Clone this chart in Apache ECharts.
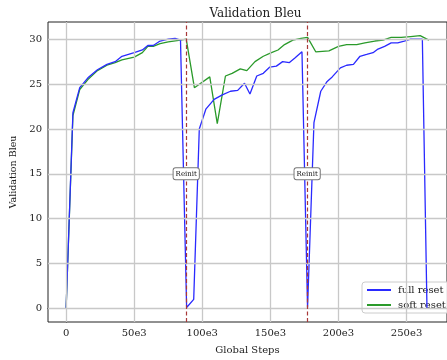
<!DOCTYPE html>
<html><head><meta charset="utf-8">
<script src="https://cdn.jsdelivr.net/npm/echarts@6/dist/echarts.min.js"></script>
<style>html,body{margin:0;padding:0;background:#fff}#c{width:447px;height:360px}</style>
</head><body><div id="c"></div>
<script>
const fullSteps = [0,5000,10000,16000,23000,30000,36000,41000,50000,56000,60000,64000,69000,75000,80000,84000,88500,93700,97800,102600,108700,114700,120700,126000,131000,135000,140000,144800,149600,154400,159000,164000,168000,173200,177300,182000,187000,191700,195400,201400,206000,211000,215800,220700,225400,229000,233900,238700,243500,248300,253000,257000,261600,265000];
const fullVals  = [0,21.8,24.6,25.7,26.6,27.2,27.5,28.1,28.5,28.8,29.3,29.3,29.8,30.0,30.1,29.9,0.1,1.0,20.0,22.2,23.3,23.8,24.2,24.3,25.1,23.9,25.9,26.2,26.9,27.0,27.5,27.4,27.9,28.6,0.1,20.7,24.2,25.3,25.8,26.8,27.1,27.2,28.1,28.3,28.5,28.9,29.2,29.6,29.6,29.8,30.0,30.0,30.0,0];
const softSteps = [0,5000,10000,16000,23000,30000,36000,41000,50000,56000,60000,64000,69000,75000,84000,88200,94200,105500,111000,117000,121900,127900,132700,138700,144800,150800,155600,160400,166500,172500,177300,183300,193000,200000,206000,213400,219400,226700,232700,238700,246000,253000,260000,266400];
const softVals  = [0,21.5,24.4,25.5,26.5,27.1,27.4,27.7,28.0,28.5,29.2,29.2,29.5,29.7,29.9,30.0,24.6,25.8,20.6,25.9,26.2,26.7,26.5,27.5,28.1,28.5,28.8,29.4,29.9,30.1,30.2,28.6,28.7,29.2,29.4,29.4,29.6,29.8,29.9,30.2,30.2,30.3,30.4,29.9];
const reinitSteps = [88200, 177000];
const reinitLabelY = 15;
const xTickVals = [0,50000,100000,150000,200000,250000];
const xTickLabels = ['0','50e3','100e3','150e3','200e3','250e3'];
const yTickVals = [0,5,10,15,20,25,30];

const FONT = 'DejaVu Serif';
const chart = echarts.init(document.getElementById('c'), null, {renderer:'canvas'});
const pair = (xs, ys) => xs.map((x,i)=>[x, ys[i]]);
chart.setOption({
  animation:false,
  backgroundColor:'#fff',
  title:{text:'Validation Bleu', left:250.5, top:3, textAlign:'center',
    textStyle:{fontFamily:FONT, fontSize:12, fontWeight:'normal', color:'#222'}},
  grid:{left:48, top:22, right:-6.5, bottom:36.3, show:true, borderColor:'#222', borderWidth:1, backgroundColor:'transparent'},
  legend:{orient:'vertical', left:362, top:282, itemWidth:24, itemHeight:2, itemGap:5,
    icon:'rect',
    backgroundColor:'rgba(255,255,255,0.85)', borderColor:'#ccc', borderWidth:1, borderRadius:3,
    padding:[3,6,3,5],
    textStyle:{fontFamily:FONT, fontSize:10, color:'#222', padding:[0,0,0,2]},
    data:['full reset','soft reset']},
  xAxis:{type:'value', min:-13300, max:279700,
    name:'Global Steps', nameLocation:'middle', nameGap:23,
    nameTextStyle:{fontFamily:FONT, fontSize:10, color:'#222'},
    axisLine:{show:true, lineStyle:{color:'#222'}},
    axisTick:{show:true, customValues:xTickVals, length:3.5, lineStyle:{color:'#222'}},
    axisLabel:{customValues:xTickVals, formatter:(v)=>xTickLabels[xTickVals.indexOf(v)], fontFamily:FONT, fontSize:10, color:'#222', margin:6},
    splitLine:{show:false}},
  yAxis:{type:'value', min:-1.52, max:31.92,
    name:'Validation Bleu', nameLocation:'middle', nameGap:25,
    nameTextStyle:{fontFamily:FONT, fontSize:9.5, color:'#222'},
    axisLine:{show:true, lineStyle:{color:'#222'}},
    axisTick:{show:true, customValues:yTickVals, length:3.5, lineStyle:{color:'#222'}},
    axisLabel:{customValues:yTickVals, fontFamily:FONT, fontSize:10, color:'#222', margin:6},
    splitLine:{show:false}},
  series:[
    {name:'grid', type:'line', data:[], silent:true,
      markLine:{silent:true, symbol:'none', label:{show:false},
        lineStyle:{color:'#c8c8c8', width:1.3, type:'solid'},
        data:[...xTickVals.map(v=>({xAxis:v})), ...yTickVals.map(v=>({yAxis:v}))]}},
    {name:'soft reset', type:'line', data:pair(softSteps, softVals), showSymbol:false, symbol:'none',
      lineStyle:{color:'#2a9a2a', width:1.3}, itemStyle:{color:'#2a9a2a'}, z:3},
    {name:'full reset', type:'line', data:pair(fullSteps, fullVals), showSymbol:false, symbol:'none',
      lineStyle:{color:'#2a2aff', width:1.3}, itemStyle:{color:'#2a2aff'}, z:4,
      markLine:{silent:true, symbol:'none', label:{show:false},
        lineStyle:{color:'#a83838', width:1.2, type:[4,2.5]},
        data:reinitSteps.map(v=>({xAxis:v}))},
      markPoint:{silent:true, symbol:'rect', symbolSize:0,
        label:{show:true, position:'inside', formatter:'Reinit', fontFamily:FONT, fontSize:7, color:'#111',
          backgroundColor:'#fff', borderColor:'#777', borderWidth:1, borderRadius:2, padding:[2,2,2,2]},
        data:reinitSteps.map(v=>({coord:[v, reinitLabelY]}))}}
  ]
});
</script></body></html>
